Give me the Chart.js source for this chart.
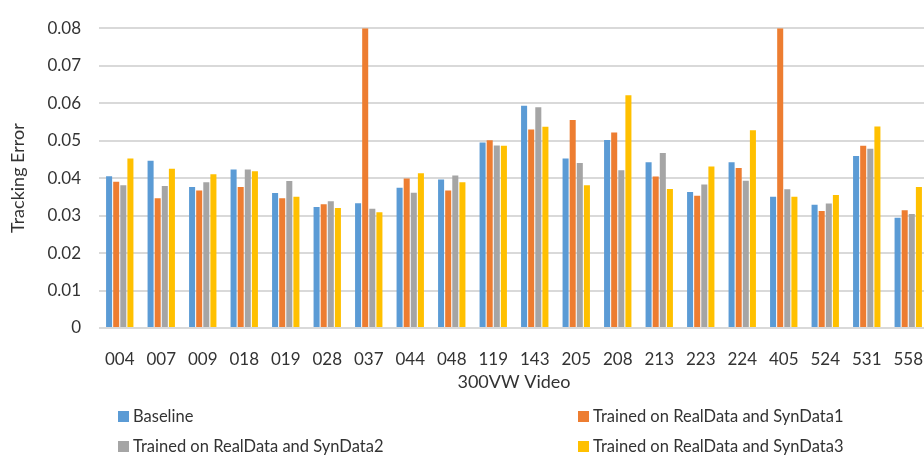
<!DOCTYPE html>
<html>
<head>
<meta charset="utf-8">
<script src="https://cdn.jsdelivr.net/npm/chart.js@4/dist/chart.umd.min.js"></script>
<style>
  html, body { margin: 0; padding: 0; background: #fff; overflow: hidden; }
  #wrap { position: relative; width: 940px; height: 458px; }
  #chart { position: absolute; left: 0; top: 0; }
  .leg { position: absolute; font: 16.5px Lato, sans-serif; color: #333; white-space: nowrap; line-height: 20px; }
  .leg i { position: absolute; left: -15px; top: 5px; width: 11px; height: 11px; }
</style>
</head>
<body>
<div id="wrap">
  <canvas id="chart" width="940" height="458"></canvas>
  <div class="leg" style="left:133px; top:406px;"><i style="background:#5B9BD5"></i>Baseline</div>
  <div class="leg" style="left:593px; top:406px;"><i style="background:#ED7D31"></i>Trained on RealData and SynData1</div>
  <div class="leg" style="left:133px; top:436px;"><i style="background:#A5A5A5"></i>Trained on RealData and SynData2</div>
  <div class="leg" style="left:593px; top:436px;"><i style="background:#FFC000"></i>Trained on RealData and SynData3</div>
</div>
<script>
// 300VW test videos
const videos = ['004','007','009','018','019','028','037','044','048','119','143','205','208','213','223','224','405','524','531','558'];

// Tracking error per video for each training setup
const baseline = [0.0405,0.0446,0.0376,0.0423,0.0360,0.0323,0.0333,0.0374,0.0396,0.0495,0.0593,0.0452,0.0502,0.0442,0.0363,0.0442,0.0350,0.0329,0.0459,0.0294];
const synData1 = [0.0390,0.0346,0.0367,0.0376,0.0346,0.0330,0.0800,0.0399,0.0367,0.0501,0.0530,0.0555,0.0522,0.0404,0.0353,0.0427,0.0800,0.0312,0.0486,0.0314];
const synData2 = [0.0381,0.0379,0.0389,0.0423,0.0392,0.0338,0.0318,0.0361,0.0407,0.0487,0.0589,0.0440,0.0421,0.0467,0.0383,0.0393,0.0370,0.0332,0.0478,0.0304];
const synData3 = [0.0452,0.0425,0.0410,0.0418,0.0350,0.0320,0.0309,0.0413,0.0389,0.0486,0.0537,0.0381,0.0621,0.0371,0.0431,0.0528,0.0350,0.0355,0.0538,0.0376];

// Value axis ticks
const yTicks = [0, 0.01, 0.02, 0.03, 0.04, 0.05, 0.06, 0.07, 0.08];

const font = { family: 'Lato, sans-serif', size: 17 };
const textColor = '#333';

function series(label, data, color) {
  return { label, data, backgroundColor: color, borderWidth: 0,
           barPercentage: 0.85, categoryPercentage: 0.685 };
}

new Chart(document.getElementById('chart'), {
  type: 'bar',
  data: {
    labels: videos,
    datasets: [
      series('Baseline', baseline, '#5B9BD5'),
      series('Trained on RealData and SynData1', synData1, '#ED7D31'),
      series('Trained on RealData and SynData2', synData2, '#A5A5A5'),
      series('Trained on RealData and SynData3', synData3, '#FFC000')
    ]
  },
  options: {
    responsive: false,
    animation: false,
    layout: { padding: { left: 0, top: 15, right: 11, bottom: 60 } },
    plugins: { legend: { display: false }, tooltip: { enabled: false } },
    scales: {
      x: {
        grid: { display: false },
        border: { display: false },
        ticks: { font, color: textColor, padding: 13, maxRotation: 0, autoSkip: false },
        title: { display: true, text: '300VW Video', font: { family: 'Lato, sans-serif', size: 18 }, color: textColor, padding: { top: 0, bottom: 5 } },
        afterFit: s => { s.height = 70; }
      },
      y: {
        min: 0, max: 0.08,
        afterBuildTicks: s => { s.ticks = yTicks.map(v => ({ value: v })); },
        grid: { color: '#D9D9D9', lineWidth: 2, drawTicks: false },
        border: { display: false },
        ticks: { font, color: textColor, padding: 18,
                 callback: v => v === 0 ? '0' : v.toFixed(2) },
        title: { display: true, text: 'Tracking Error', font: { family: 'Lato, sans-serif', size: 18 }, color: textColor, padding: { top: 7, bottom: 0 } },
        afterFit: s => { s.width = 99; }
      }
    }
  }
});
</script>
</body>
</html>
